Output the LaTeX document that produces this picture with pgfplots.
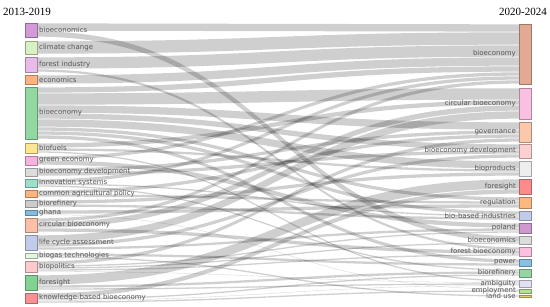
\documentclass[border=0pt]{standalone}
\usepackage{pgfplots}
\usepackage{pgfplotstable}
\usepackage{fontspec}
\pgfplotsset{compat=1.18}
\setmainfont{Liberation Serif}
\newfontfamily\labfont{DejaVu Sans}

\definecolor{labgray}{HTML}{555555}
% left nodes
\definecolor{L1}{HTML}{D29AD6}
\definecolor{L2}{HTML}{D8F0C4}
\definecolor{L3}{HTML}{EABAE8}
\definecolor{L4}{HTML}{FDB47E}
\definecolor{L5}{HTML}{92D8A0}
\definecolor{L6}{HTML}{FDE690}
\definecolor{L7}{HTML}{F8B2E0}
\definecolor{L8}{HTML}{DCDCDC}
\definecolor{L9}{HTML}{9CE0CC}
\definecolor{L10}{HTML}{FDB47E}
\definecolor{L11}{HTML}{CCCCCC}
\definecolor{L12}{HTML}{84BCE0}
\definecolor{L13}{HTML}{FCC0A8}
\definecolor{L14}{HTML}{C2CCEA}
\definecolor{L15}{HTML}{E2F6DC}
\definecolor{L16}{HTML}{FCCACC}
\definecolor{L17}{HTML}{84D292}
\definecolor{L18}{HTML}{F89292}
% right nodes
\definecolor{R1}{HTML}{E2AA92}
\definecolor{R2}{HTML}{FAC0E2}
\definecolor{R3}{HTML}{FCC8AC}
\definecolor{R4}{HTML}{FCD0D0}
\definecolor{R5}{HTML}{EEEEEE}
\definecolor{R6}{HTML}{FC8C8C}
\definecolor{R7}{HTML}{FDB880}
\definecolor{R8}{HTML}{C2CCEA}
\definecolor{R9}{HTML}{CE9ACE}
\definecolor{R10}{HTML}{DCDCDC}
\definecolor{R11}{HTML}{FAC0E2}
\definecolor{R12}{HTML}{88C0E2}
\definecolor{R13}{HTML}{92D8A0}
\definecolor{R14}{HTML}{E0E0F0}
\definecolor{R15}{HTML}{B4E092}
\definecolor{R16}{HTML}{E2CA78}

\tikzset{lab/.style={font=\labfont\fontsize{7}{8}\selectfont, text=labgray, inner sep=0pt}}

\pgfplotstableread[col sep=comma]{
y0,y1,col,name
23,37,L1,bioeconomics
41,54,L2,climate change
57,72,L3,forest industry
75,84,L4,economics
87,139,L5,bioeconomy
143,153,L6,biofuels
156,165,L7,green economy
168,176,L8,bioeconomy development
179,187,L9,innovation systems
190,197,L10,common agricultural policy
200,207,L11,biorefinery
210,215,L12,ghana
218,232,L13,circular bioeconomy
235,250,L14,life cycle assessment
253,258,L15,biogas technologies
261,272,L16,biopolitics
275,290,L17,foresight
293,303,L18,knowledge-based bioeconomy
}\leftnodes

\pgfplotstableread[col sep=comma]{
y0,y1,col,name
24,84,R1,bioeconomy
88,119,R2,circular bioeconomy
122,142,R3,governance
144,158,R4,bioeconomy development
161,176,R5,bioproducts
179,194,R6,foresight
197,208,R7,regulation
211,220,R8,bio-based industries
223,233,R9,poland
236,244,R10,bioeconomics
247,256,R11,forest bioeconomy
259,266,R12,power
269,277,R13,biorefinery
280,287,R14,ambiguity
289,293,R15,employment
295,297,R16,land use
}\rightnodes

% links: source band (s0-s1) on the left, target band (t0-t1) on the right
\pgfplotstableread{
s0  s1  t0  t1
23  31  24  32
31  37  236 242
41  54  32  45
57  69  45  57
69  72  247 250
75  84  57  66
87  93  66  72
93  105 88  100
105 113 122 130
113 119 144 150
119 127 161 169
127 131 197 201
131 135 211 215
135 139 259 263
143 148 100 105
148 151 169 172
151 153 280 282
156 160 72  76
160 165 223 228
168 172 130 134
172 176 150 154
179 183 76  80
183 185 215 217
185 187 269 271
190 194 134 138
194 197 201 204
200 204 172 176
204 207 217 220
210 214 204 208
214 215 289 290
218 222 80  84
222 228 105 111
228 232 250 254
235 243 111 119
243 247 154 158
247 250 228 231
253 256 263 266
256 258 295 297
261 265 138 142
265 267 231 233
267 269 242 244
269 271 254 256
271 272 282 283
275 285 179 189
285 288 271 274
288 290 283 285
293 298 189 194
298 300 274 276
300 301 285 286
301 303 290 292
}\links

\begin{document}
\begin{tikzpicture}
\begin{axis}[
    scale only axis,
    width=550pt, height=306pt,
    xmin=0, xmax=550, ymin=0, ymax=306,
    y dir=reverse,
    hide axis,
    clip=false
]
\path (rel axis cs:0,0) rectangle (rel axis cs:1,1);

% links
\pgfplotstablegetrowsof{\links}
\pgfmathtruncatemacro\nK{\pgfplotsretval-1}
\pgfplotsforeachungrouped \i in {0,...,\nK}{%
  \pgfplotstablegetelem{\i}{s0}\of\links \pgfmathsetmacro\sa{\pgfplotsretval+0.35}
  \pgfplotstablegetelem{\i}{s1}\of\links \pgfmathsetmacro\sb{\pgfplotsretval-0.35}
  \pgfplotstablegetelem{\i}{t0}\of\links \pgfmathsetmacro\ta{\pgfplotsretval+0.35}
  \pgfplotstablegetelem{\i}{t1}\of\links \pgfmathsetmacro\tb{\pgfplotsretval-0.35}
  \edef\temp{\noexpand\fill[black, fill opacity=0.19]
    (axis cs:37,\sa) .. controls (axis cs:278,\sa) and (axis cs:278,\ta) .. (axis cs:519,\ta)
    -- (axis cs:519,\tb) .. controls (axis cs:278,\tb) and (axis cs:278,\sb) .. (axis cs:37,\sb) -- cycle;}
  \temp
}

% left nodes
\pgfplotstablegetrowsof{\leftnodes}
\pgfmathtruncatemacro\nL{\pgfplotsretval-1}
\pgfplotsforeachungrouped \i in {0,...,\nL}{%
  \pgfplotstablegetelem{\i}{y0}\of\leftnodes \let\ya\pgfplotsretval
  \pgfplotstablegetelem{\i}{y1}\of\leftnodes \let\yb\pgfplotsretval
  \pgfplotstablegetelem{\i}{col}\of\leftnodes \let\cc\pgfplotsretval
  \pgfplotstablegetelem{\i}{name}\of\leftnodes \let\nm\pgfplotsretval
  \pgfmathsetmacro\ym{(\ya+\yb)/2}
  \edef\temp{\noexpand\filldraw[fill=\cc, draw=\cc!70!black, line width=0.4pt]
      (axis cs:25,\ya) rectangle (axis cs:37,\yb);
    \noexpand\node[lab, anchor=west] at (axis cs:39,\ym) {\nm};}
  \temp
}

% right nodes
\pgfplotstablegetrowsof{\rightnodes}
\pgfmathtruncatemacro\nR{\pgfplotsretval-1}
\pgfplotsforeachungrouped \i in {0,...,\nR}{%
  \pgfplotstablegetelem{\i}{y0}\of\rightnodes \let\ya\pgfplotsretval
  \pgfplotstablegetelem{\i}{y1}\of\rightnodes \let\yb\pgfplotsretval
  \pgfplotstablegetelem{\i}{col}\of\rightnodes \let\cc\pgfplotsretval
  \pgfplotstablegetelem{\i}{name}\of\rightnodes \let\nm\pgfplotsretval
  \pgfmathsetmacro\ym{(\ya+\yb)/2}
  \edef\temp{\noexpand\filldraw[fill=\cc, draw=\cc!70!black, line width=0.4pt]
      (axis cs:519,\ya) rectangle (axis cs:531,\yb);
    \noexpand\node[lab, anchor=east] at (axis cs:516,\ym) {\nm};}
  \temp
}

\node[anchor=base west, inner sep=0pt, font=\fontsize{11}{12}\selectfont] at (axis cs:3,15) {2013-2019};
\node[anchor=base east, inner sep=0pt, font=\fontsize{11}{12}\selectfont] at (axis cs:547,15) {2020-2024};
\end{axis}
\end{tikzpicture}
\end{document}
